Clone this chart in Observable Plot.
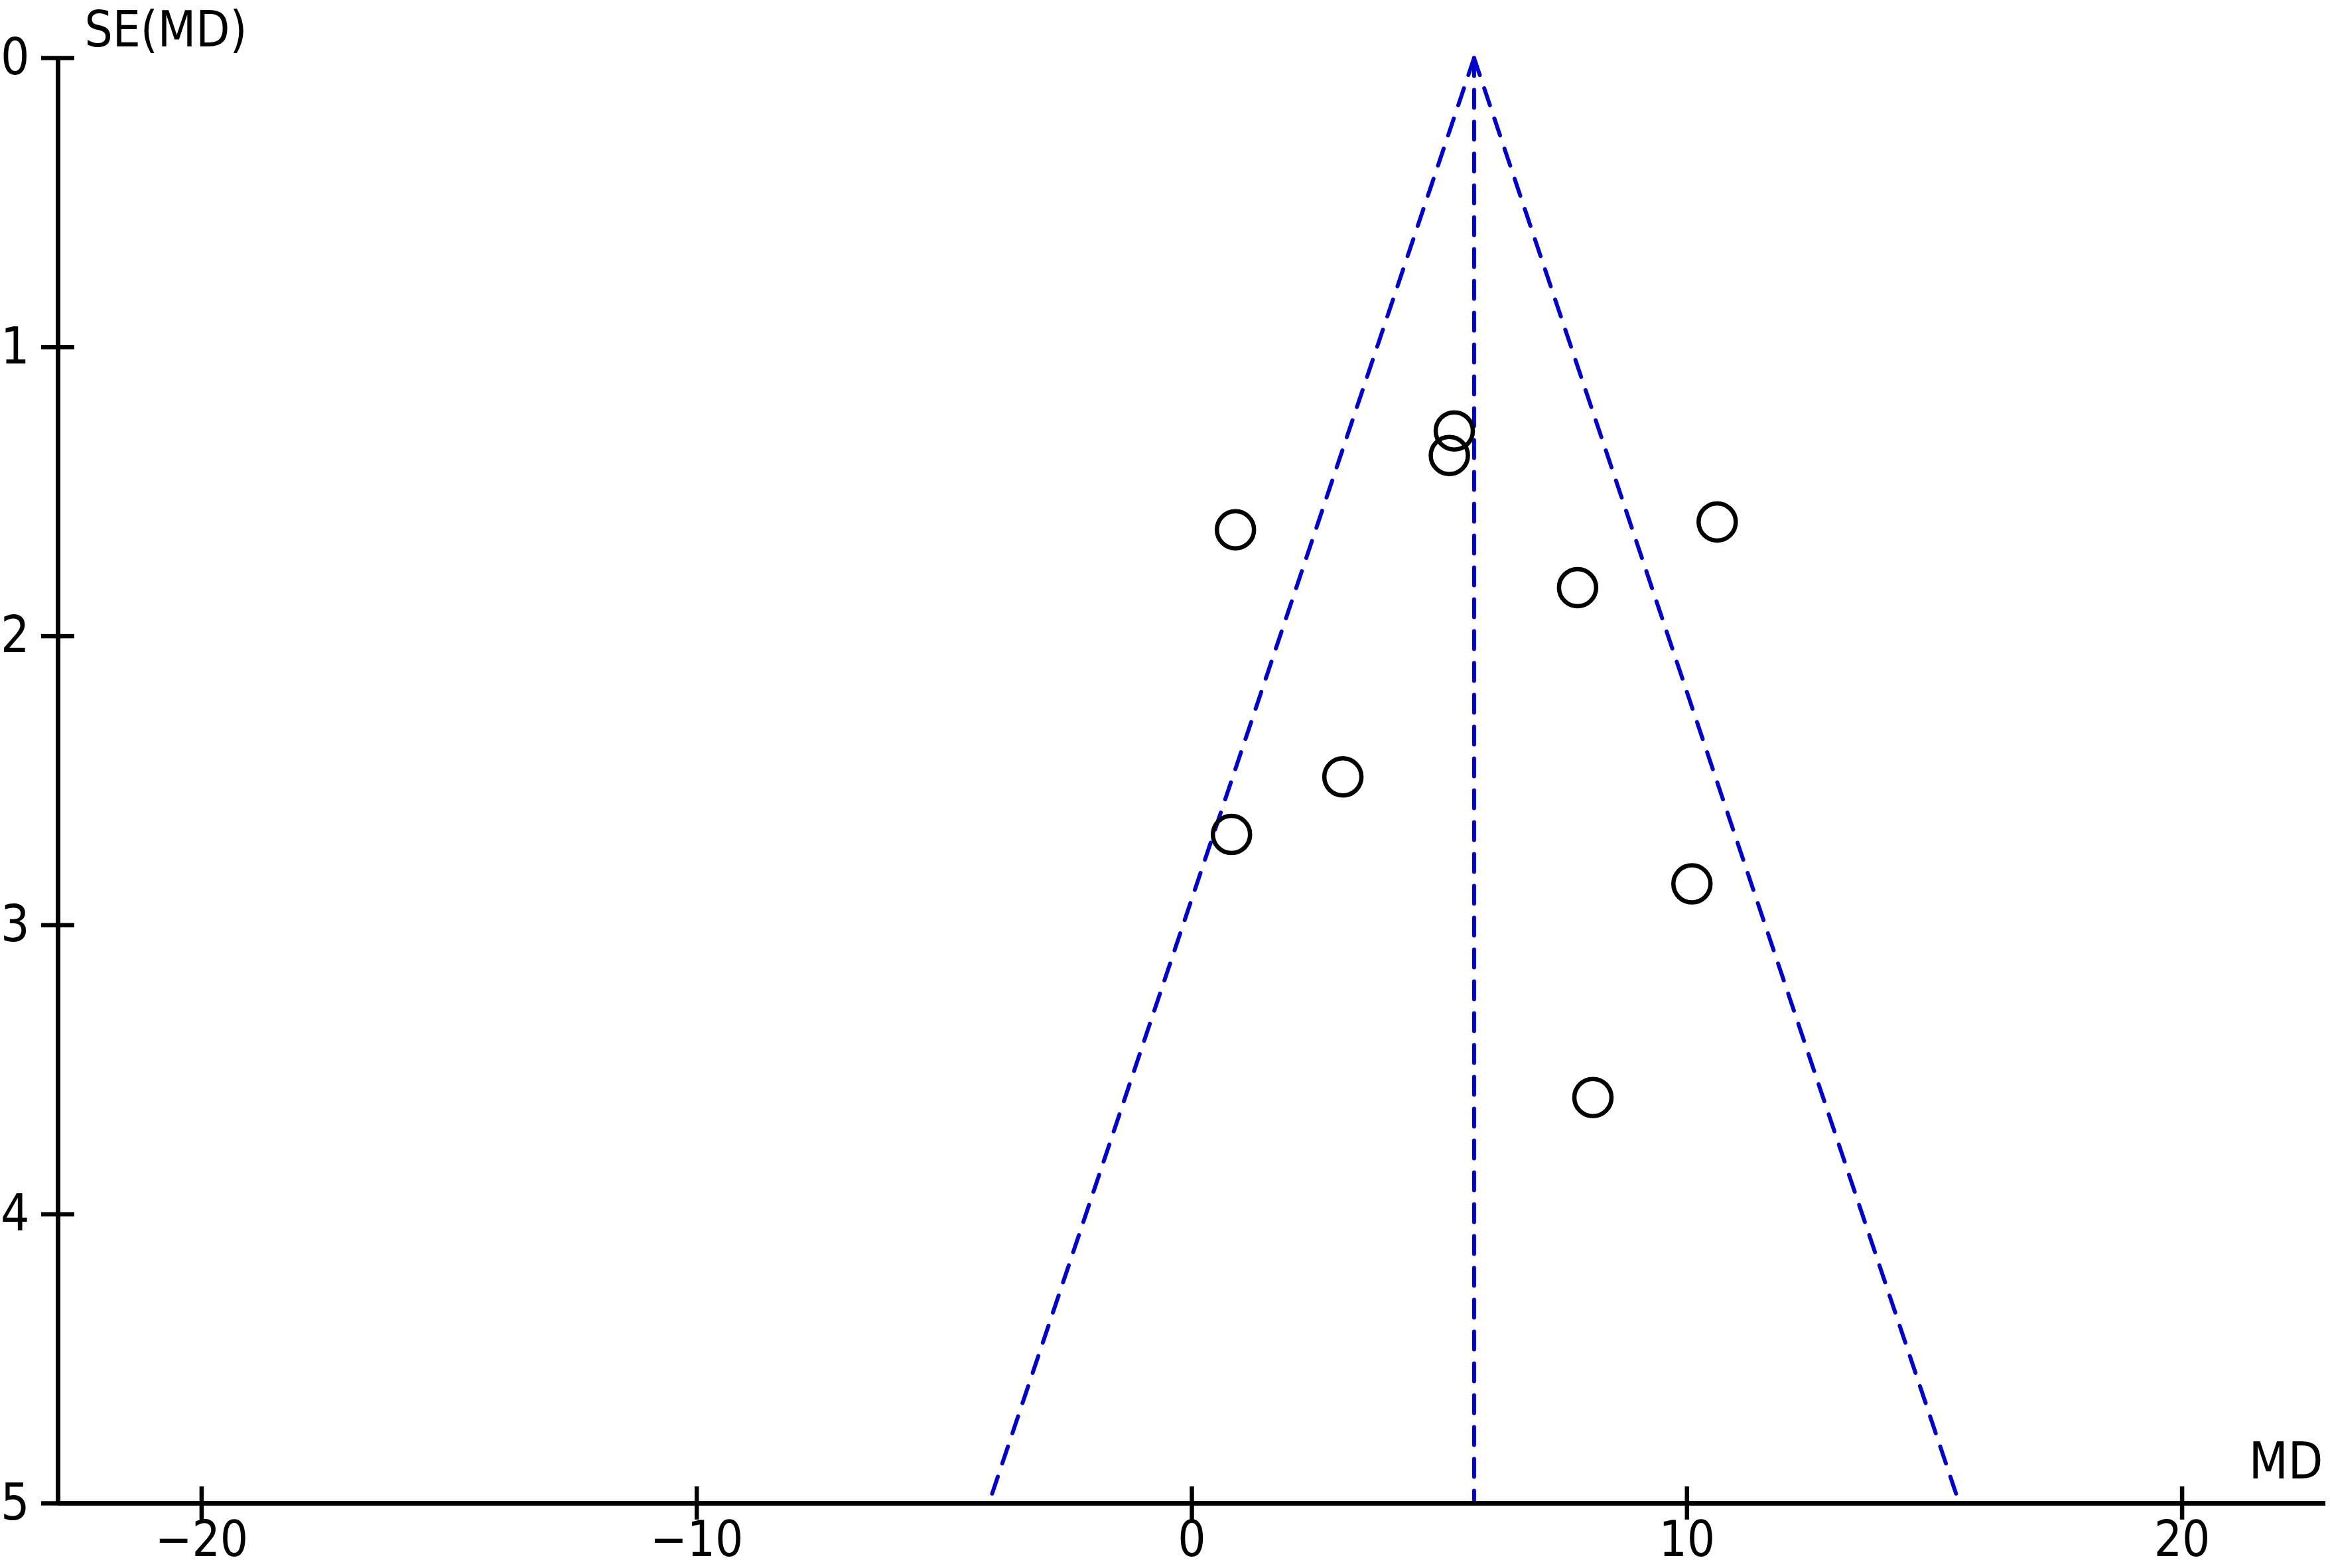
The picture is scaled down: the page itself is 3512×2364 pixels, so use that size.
<!DOCTYPE html>
<html>
<head>
<meta charset="utf-8">
<script src="https://cdn.jsdelivr.net/npm/d3@7"></script>
<script src="https://cdn.jsdelivr.net/npm/@observablehq/plot@0.6"></script>
<style>
  html, body { margin: 0; padding: 0; background: #fff; }
</style>
</head>
<body>
<div id="chart"></div>
<script>
// Study estimates (mean difference) and their standard errors
const md = [5.30, 5.20, 0.88, 10.61, 7.79, 3.05, 0.80, 10.10, 8.10];
const se = [1.290, 1.375, 1.632, 1.605, 1.832, 2.487, 2.686, 2.857, 3.596];

// Funnel (pooled estimate and 95% pseudo-confidence limits)
const pooledMD = [5.7, 5.7];
const pooledSE = [0, 5];
const leftMD = [5.7, -4.1];
const leftSE = [0, 5];
const rightMD = [5.7, 15.5];
const rightSE = [0, 5];

// Axis ticks
const xTicks = [-20, -10, 0, 10, 20];
const yTicks = [0, 1, 2, 3, 4, 5];
const xDomain = [-22.9, 22.9];
const yDomain = [0, 5];

const studies = md.map((m, i) => ({md: m, se: se[i]}));
const line = (xs, ys) => xs.map((x, i) => ({md: x, se: ys[i]}));

const font = "'DejaVu Sans Condensed', 'DejaVu Sans', sans-serif";
const blue = "#0000c8";
const dash = "27,21";
const fmt = d => d < 0 ? "\u2212" + Math.abs(d) : String(d);

const chart = Plot.plot({
  width: 3512,
  height: 2364,
  marginLeft: 87,
  marginTop: 87,
  marginBottom: 98,
  marginRight: 7,
  style: {fontFamily: font, background: "#fff", color: "#000", overflow: "visible"},
  x: {domain: xDomain},
  y: {domain: yDomain, reverse: true},
  marks: [
    // funnel
    Plot.line(line(leftMD, leftSE), {x: "md", y: "se", stroke: blue, strokeWidth: 6, strokeDasharray: dash}),
    Plot.line(line(rightMD, rightSE), {x: "md", y: "se", stroke: blue, strokeWidth: 6, strokeDasharray: dash}),
    Plot.line(line(pooledMD, pooledSE), {x: "md", y: "se", stroke: blue, strokeWidth: 6, strokeDasharray: dash}),
    // studies
    Plot.dot(studies, {x: "md", y: "se", r: 28, stroke: "#000", strokeWidth: 6.5, fill: "none"}),
    // axis lines
    Plot.ruleY([yDomain[1]], {stroke: "#000", strokeWidth: 7}),
    Plot.ruleX([xDomain[0]], {stroke: "#000", strokeWidth: 7}),
    // x axis: outward ticks with labels, plus inward ticks
    Plot.axisX({anchor: "bottom", ticks: xTicks, tickSize: 25, tickPadding: 2, fontSize: 74, strokeWidth: 6.5, label: null, tickFormat: fmt}),
    Plot.axisX({anchor: "bottom", ticks: xTicks, tickSize: 25, dy: -25, strokeWidth: 6.5, label: null, tickFormat: () => ""}),
    // y axis: outward ticks with labels, plus inward ticks
    Plot.axisY({anchor: "left", ticks: yTicks, tickSize: 25, tickPadding: 18, fontSize: 76, strokeWidth: 6.5, label: null, tickFormat: fmt}),
    Plot.axisY({anchor: "left", ticks: yTicks, tickSize: 25, dx: 25, strokeWidth: 6.5, label: null, tickFormat: () => ""}),
    // axis titles
    Plot.text(["SE(MD)"], {frameAnchor: "top-left", dx: 40, dy: -41, textAnchor: "start", lineAnchor: "middle", fontSize: 74, fill: "#000"}),
    Plot.text(["MD"], {frameAnchor: "bottom-right", dx: -4, dy: -62, textAnchor: "end", lineAnchor: "middle", fontSize: 76, fill: "#000"})
  ]
});

document.getElementById("chart").appendChild(chart);
</script>
</body>
</html>
